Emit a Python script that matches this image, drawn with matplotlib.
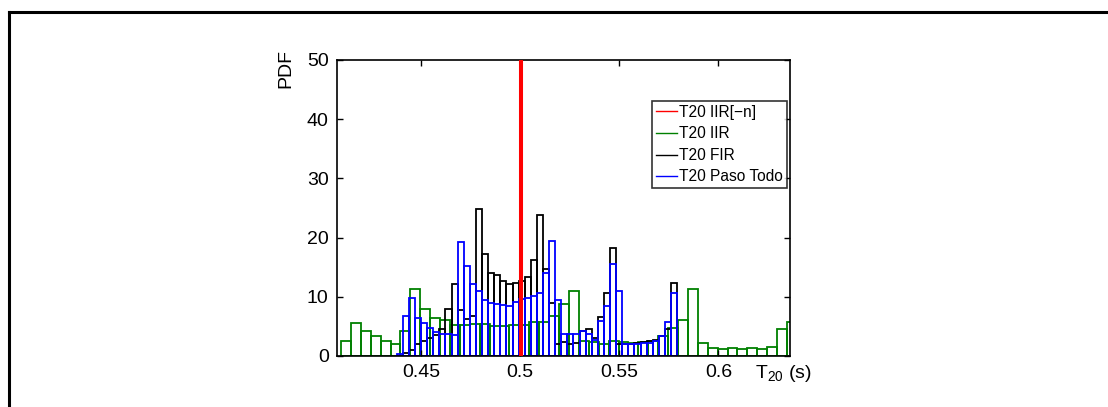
import numpy as np
import matplotlib
matplotlib.use('Agg')
import matplotlib.pyplot as plt
from matplotlib.lines import Line2D

plt.rcParams['font.family'] = ['Liberation Sans', 'DejaVu Sans']
plt.rcParams['mathtext.fontset'] = 'custom'
plt.rcParams['mathtext.rm'] = 'Liberation Sans'
plt.rcParams['mathtext.it'] = 'Liberation Sans'

# histogram bins (left edge of first bin, bin width)
iir_start, iir_width = 0.4096, 0.005
pt_start, pt_width = 0.4377, 0.003075

# T20 IIR (green)
iir_pdf = [2.6, 5.6, 4.3, 3.3, 2.6, 2.1, 4.2, 11.3, 7.9, 6.5,
           6.0, 5.3, 5.2, 5.4, 5.4, 5.1, 5.1, 5.2, 5.2, 5.7,
           5.7, 6.8, 8.7, 11.0, 2.5, 2.3, 2.1, 2.5, 2.3, 2.2,
           2.4, 2.6, 3.4, 4.8, 6.1, 11.3, 2.2, 1.35, 1.2, 1.3,
           1.2, 1.3, 1.2, 1.5, 4.5, 5.7]

# T20 FIR (black)
fir_pdf = [0.0, 0.5, 1.0, 2.0, 2.5, 3.0, 3.5, 4.5, 8.0, 12.2,
           7.8, 6.3, 6.7, 24.8, 17.2, 14.1, 13.6, 12.7, 12.2, 12.4,
           12.7, 13.3, 16.3, 23.8, 14.7, 9.0, 2.1, 2.3, 2.1, 2.2,
           4.2, 4.5, 3.0, 6.6, 10.6, 18.3, 2.0, 2.1, 2.1, 2.2,
           2.4, 2.6, 2.7, 3.3, 4.5, 12.3]

# T20 Paso Todo (blue)
pt_pdf = [0.3, 6.8, 9.8, 6.5, 5.6, 4.7, 4.05, 3.8, 3.8, 3.6,
          19.2, 15.2, 12.1, 10.9, 9.4, 9.0, 8.8, 8.6, 8.4, 9.1,
          9.6, 9.8, 10.2, 10.6, 14.0, 19.5, 9.4, 3.8, 3.7, 3.8,
          4.2, 3.7, 2.65, 5.9, 8.4, 15.5, 11.0, 2.0, 2.1, 2.1,
          2.2, 2.2, 2.6, 3.3, 5.7, 10.6]

# T20 IIR[-n] (red): all values in one narrow bin
iirn_center, iirn_width, iirn_pdf = 0.5, 0.0004, 400.0

fig = plt.figure(figsize=(11.08, 4.07), dpi=100)
ax = fig.add_axes([337 / 1108, 1 - 356 / 407, (790 - 337) / 1108, 296 / 407])

lw = 1.3
green = (0, 0.5, 0)
iir_edges = iir_start + iir_width * np.arange(len(iir_pdf))
pt_edges = pt_start + pt_width * np.arange(len(pt_pdf))

ax.bar(iir_edges, iir_pdf, width=iir_width, align='edge', fill=False,
       edgecolor=green, linewidth=lw)
ax.bar(pt_edges, fir_pdf, width=pt_width, align='edge', fill=False,
       edgecolor='black', linewidth=lw)
ax.bar(pt_edges, pt_pdf, width=pt_width, align='edge', fill=False,
       edgecolor='blue', linewidth=lw)
ax.bar([iirn_center], [iirn_pdf], width=iirn_width, align='center', fill=False,
       edgecolor='red', linewidth=2.2, zorder=5)

ax.set_xlim(0.4076, 0.6361)
ax.set_ylim(0, 50)
ax.set_xticks([0.45, 0.5, 0.55, 0.6])
ax.set_xticklabels(['0.45', '0.5', '0.55', '0.6'])
ax.set_yticks([0, 10, 20, 30, 40, 50])
ax.tick_params(direction='in', length=4, labelsize=14, width=1,
               top=True, right=True, pad=6)
for sp in ax.spines.values():
    sp.set_linewidth(1.2)

ax.set_ylabel('PDF', fontsize=14)
ax.yaxis.set_label_coords(-0.095, 0.97)
fig.text(755 / 1108, 1 - 378 / 407, r'T$_{20}$ (s)', fontsize=14)

handles = [Line2D([], [], color='red', lw=1),
           Line2D([], [], color=green, lw=1),
           Line2D([], [], color='black', lw=1),
           Line2D([], [], color='blue', lw=1)]
labels = ['T20 IIR[\u2212n]', 'T20 IIR', 'T20 FIR', 'T20 Paso Todo']
leg = ax.legend(handles, labels, loc='upper left',
                bbox_to_anchor=(652 / 1108, 1 - 101 / 407),
                bbox_transform=fig.transFigure, fontsize=11.2, frameon=True,
                fancybox=False, edgecolor='black', handlelength=1.35,
                handletextpad=0.15, borderpad=0.25, labelspacing=0.42,
                borderaxespad=0)
leg.get_frame().set_linewidth(1.2)

# outer frame (only top and left edges are visible)
fig.add_artist(Line2D([9 / 1108, 9 / 1108], [0, 1 - 12 / 407], color='black',
                      lw=2.2, transform=fig.transFigure))
fig.add_artist(Line2D([9 / 1108, 1], [1 - 12 / 407, 1 - 12 / 407], color='black',
                      lw=2.2, transform=fig.transFigure))

fig.savefig('out.png', dpi=100)
